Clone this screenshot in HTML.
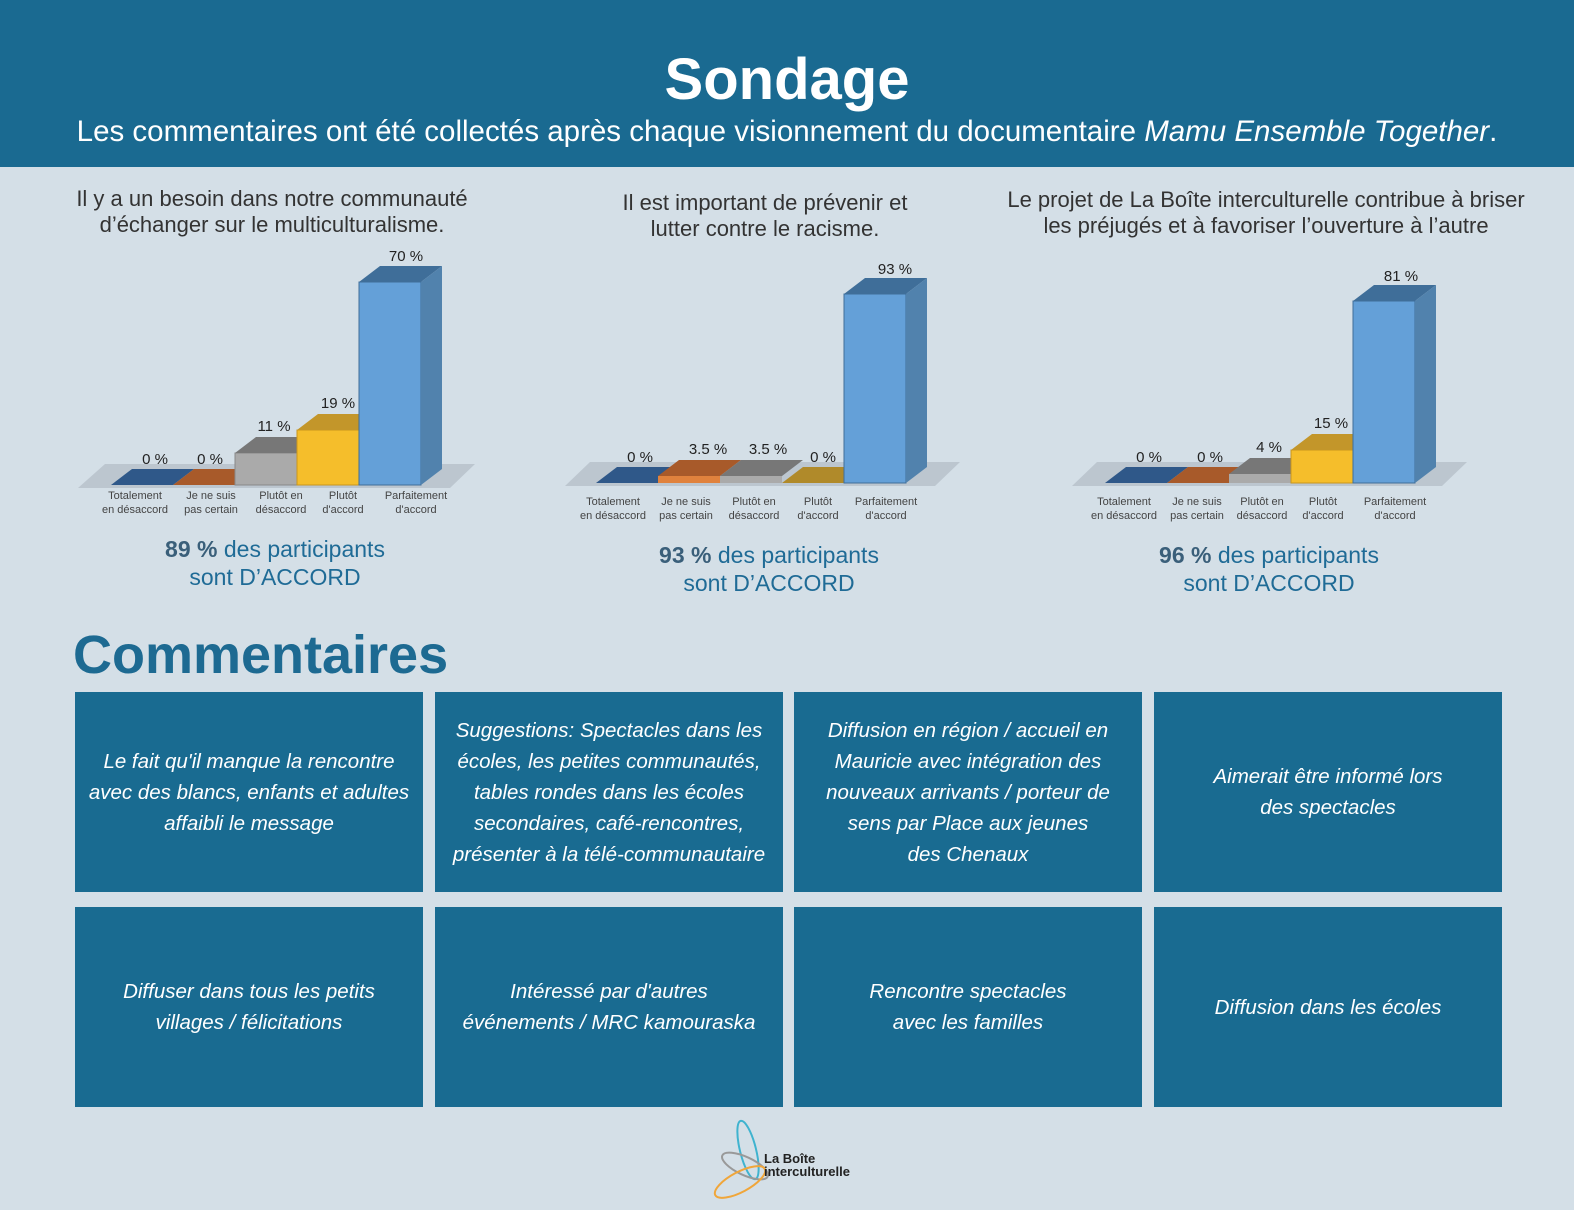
<!DOCTYPE html>
<html><head><meta charset="utf-8"><style>
body{margin:0;width:1574px;height:1210px;background:#d4dfe7;font-family:"Liberation Sans",sans-serif;position:relative;overflow:hidden}
.hdr{position:absolute;left:0;top:0;width:1574px;height:167px;background:#1a6a91;color:#fff;text-align:center}
.hdr h1{margin:0;position:absolute;top:46px;width:100%;font-size:58px;font-weight:bold}
.hdr p{margin:0;position:absolute;top:115px;width:100%;font-size:29.5px}
.box{position:absolute;width:348px;height:200px;background:#196b91;color:#fff;font-style:italic;font-size:20.5px;line-height:31px;display:flex;align-items:center;justify-content:center;text-align:center}
.ct{position:absolute;font-size:22px;color:#333;text-align:center;line-height:26px;width:580px}
.sum{position:absolute;font-size:23px;color:#1f6b96;text-align:center;line-height:28px;width:400px}
.sum b{color:#3a5f7a}
</style></head><body>
<div class="hdr"><h1>Sondage</h1><p>Les commentaires ont été collectés après chaque visionnement du documentaire <i>Mamu Ensemble Together</i>.</p></div>
<div class="ct" style="left:-18px;top:186px">Il y a un besoin dans notre communauté<br>d’échanger sur le multiculturalisme.</div>
<div class="ct" style="left:475px;top:190px">Il est important de prévenir et<br>lutter contre le racisme.</div>
<div class="ct" style="left:976px;top:187px">Le projet de La Boîte interculturelle contribue à briser<br>les préjugés et à favoriser l’ouverture à l’autre</div>
<div class="sum" style="left:75px;top:535px"><b>89 %</b> des participants<br>sont D’ACCORD</div>
<div class="sum" style="left:569px;top:541px"><b>93 %</b> des participants<br>sont D’ACCORD</div>
<div class="sum" style="left:1069px;top:541px"><b>96 %</b> des participants<br>sont D’ACCORD</div>
<svg width="1574" height="1210" style="position:absolute;left:0;top:0" font-family="Liberation Sans,sans-serif">
<g font-size="15" fill="#222" text-anchor="middle">
<polygon points="78,488 105,464 475,464 450,488" fill="#bcc6cf"/>
<polygon points="111,485 132,469 194,469 173,485" fill="#2f5889"/>
<polygon points="173,485 194,469 256,469 235,485" fill="#a85a2a"/>
<rect x="235" y="453" width="62" height="32" fill="#aaa" stroke="#888"/>
<polygon points="235,453 256,437 318,437 297,453" fill="#777"/>
<rect x="297" y="430" width="62" height="55" fill="#f5be2b" stroke="#c9961d"/>
<polygon points="297,430 318,414 380,414 359,430" fill="#c3962a"/>
<rect x="359" y="282" width="62" height="203" fill="#64a0d8" stroke="#3f6e99"/>
<polygon points="359,282 380,266 442,266 421,282" fill="#3f6e99"/>
<polygon points="421,282 442,266 442,469 421,485" fill="#5182ad"/>
<text x="155" y="464">0 %</text><text x="210" y="464">0 %</text><text x="274" y="431">11 %</text><text x="338" y="408">19 %</text><text x="406" y="261">70 %</text>
<polygon points="565,486 590,462 960,462 935,486" fill="#bcc6cf"/>
<polygon points="596,483 617,467 679,467 658,483" fill="#2f5889"/>
<rect x="658" y="476" width="62" height="7" fill="#e0823d"/>
<polygon points="658,476 679,460 741,460 720,476" fill="#a85a2a"/>
<rect x="720" y="476" width="62" height="7" fill="#aaa"/>
<polygon points="720,476 741,460 803,460 782,476" fill="#777"/>
<polygon points="782,483 803,467 865,467 844,483" fill="#b08a2a"/>
<rect x="844" y="294" width="62" height="189" fill="#64a0d8" stroke="#3f6e99"/>
<polygon points="844,294 865,278 927,278 906,294" fill="#3f6e99"/>
<polygon points="906,294 927,278 927,467 906,483" fill="#5182ad"/>
<text x="640" y="462">0 %</text><text x="708" y="454">3.5 %</text><text x="768" y="454">3.5 %</text><text x="823" y="462">0 %</text><text x="895" y="274">93 %</text>
<polygon points="1072,486 1097,462 1467,462 1442,486" fill="#bcc6cf"/>
<polygon points="1105,483 1126,467 1188,467 1167,483" fill="#2f5889"/>
<polygon points="1167,483 1188,467 1250,467 1229,483" fill="#a85a2a"/>
<rect x="1229" y="474" width="62" height="9" fill="#aaa"/>
<polygon points="1229,474 1250,458 1312,458 1291,474" fill="#777"/>
<rect x="1291" y="450" width="62" height="33" fill="#f5be2b" stroke="#c9961d"/>
<polygon points="1291,450 1312,434 1374,434 1353,450" fill="#c3962a"/>
<rect x="1353" y="301" width="62" height="182" fill="#64a0d8" stroke="#3f6e99"/>
<polygon points="1353,301 1374,285 1436,285 1415,301" fill="#3f6e99"/>
<polygon points="1415,301 1436,285 1436,467 1415,483" fill="#5182ad"/>
<text x="1149" y="462">0 %</text><text x="1210" y="462">0 %</text><text x="1269" y="452">4 %</text><text x="1331" y="428">15 %</text><text x="1401" y="281">81 %</text>
</g>
<g font-size="11" fill="#444" text-anchor="middle">
<text x="135" y="499">Totalement</text><text x="135" y="513">en désaccord</text>
<text x="211" y="499">Je ne suis</text><text x="211" y="513">pas certain</text>
<text x="281" y="499">Plutôt en</text><text x="281" y="513">désaccord</text>
<text x="343" y="499">Plutôt</text><text x="343" y="513">d'accord</text>
<text x="416" y="499">Parfaitement</text><text x="416" y="513">d'accord</text>
<text x="613" y="505">Totalement</text><text x="613" y="519">en désaccord</text>
<text x="686" y="505">Je ne suis</text><text x="686" y="519">pas certain</text>
<text x="754" y="505">Plutôt en</text><text x="754" y="519">désaccord</text>
<text x="818" y="505">Plutôt</text><text x="818" y="519">d'accord</text>
<text x="886" y="505">Parfaitement</text><text x="886" y="519">d'accord</text>
<text x="1124" y="505">Totalement</text><text x="1124" y="519">en désaccord</text>
<text x="1197" y="505">Je ne suis</text><text x="1197" y="519">pas certain</text>
<text x="1262" y="505">Plutôt en</text><text x="1262" y="519">désaccord</text>
<text x="1323" y="505">Plutôt</text><text x="1323" y="519">d'accord</text>
<text x="1395" y="505">Parfaitement</text><text x="1395" y="519">d'accord</text>
</g>
<text x="73" y="673" font-size="54" font-weight="bold" fill="#1d6a92">Commentaires</text>
<g fill="none" stroke-width="2">
<ellipse cx="748" cy="1150" rx="8" ry="30" transform="rotate(-14 748 1150)" stroke="#3fb3cf"/>
<ellipse cx="745" cy="1166" rx="25" ry="9" transform="rotate(25 745 1166)" stroke="#999"/>
<ellipse cx="740" cy="1182" rx="28" ry="10" transform="rotate(-28 740 1182)" stroke="#f0a63a"/>
</g>
<text x="764" y="1163" font-size="13" font-weight="bold" fill="#222">La Boîte</text>
<text x="764" y="1176" font-size="13" font-weight="bold" fill="#222">interculturelle</text>
</svg>
<div class="box" style="left:75px;top:692px">Le fait qu'il manque la rencontre<br>avec des blancs, enfants et adultes<br>affaibli le message</div>
<div class="box" style="left:435px;top:692px">Suggestions: Spectacles dans les<br>écoles, les petites communautés,<br>tables rondes dans les écoles<br>secondaires, café-rencontres,<br>présenter à la télé-communautaire</div>
<div class="box" style="left:794px;top:692px">Diffusion en région / accueil en<br>Mauricie avec intégration des<br>nouveaux arrivants / porteur de<br>sens par Place aux jeunes<br>des Chenaux</div>
<div class="box" style="left:1154px;top:692px">Aimerait être informé lors<br>des spectacles</div>
<div class="box" style="left:75px;top:907px">Diffuser dans tous les petits<br>villages / félicitations</div>
<div class="box" style="left:435px;top:907px">Intéressé par d'autres<br>événements / MRC kamouraska</div>
<div class="box" style="left:794px;top:907px">Rencontre spectacles<br>avec les familles</div>
<div class="box" style="left:1154px;top:907px">Diffusion dans les écoles</div>
</body></html>
